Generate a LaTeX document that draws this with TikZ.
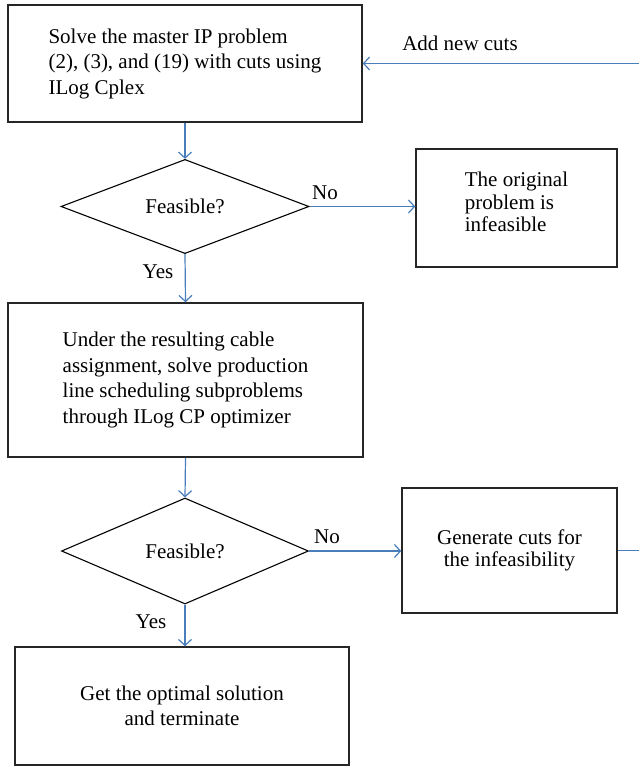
\documentclass[tikz,border=0pt]{standalone}
\usepackage{fontspec}
\setmainfont{Liberation Serif}
\usetikzlibrary{shapes.geometric,arrows.meta,calc}
\definecolor{arrowblue}{HTML}{4A7EBB}
\definecolor{boxline}{HTML}{262626}
\begin{document}
\begin{tikzpicture}[x=1pt,y=-1pt,
  procbox/.style={draw=boxline,line width=1.5pt,rectangle,inner sep=0pt,font=\fontsize{21}{25.5}\selectfont},
  smallbox/.style={procbox,font=\fontsize{21}{22.5}\selectfont},
  decide/.style={draw=black,line width=1.1pt,diamond,inner sep=0pt,font=\fontsize{21}{24}\selectfont},
  flow/.style={draw=arrowblue,line width=1.2pt,-{Straight Barb[length=6pt,width=13pt]}},
  flowline/.style={draw=arrowblue,line width=1.2pt},
  lbl/.style={font=\fontsize{21}{24}\selectfont,inner sep=0pt}
]
\useasboundingbox (0,0) rectangle (638,767);

\node[procbox,minimum width=354pt,minimum height=117pt,align=left] (b1) at (185,63.5)
  {Solve the master IP problem\\(2), (3), and (19) with cuts using\\ILog Cplex};
\node[decide,minimum width=248pt,minimum height=85pt] (d1) at (185,206.5) {Feasible?};
\node[smallbox,minimum width=201pt,minimum height=118pt,align=left] (b2) at (516.5,208)
  {The original\\problem is\\infeasible\rule[-12pt]{0pt}{0pt}};
\node[procbox,minimum width=355pt,minimum height=154pt,align=left] (b3) at (185.5,380)
  {Under the resulting cable\\assignment, solve production\\line scheduling subproblems\\through ILog CP optimizer};
\node[decide,minimum width=247pt,minimum height=106pt] (d2) at (185,551) {Feasible?};
\node[smallbox,minimum width=215pt,minimum height=125pt,align=center] (b4) at (509.5,550.5)
  {Generate cuts for\\the infeasibility};
\node[procbox,minimum width=334pt,minimum height=118pt,align=center] (b5) at (182,706)
  {Get the optimal solution\\and terminate};

\node[lbl] (addcuts) at (460,43) {Add new cuts};
\node[lbl] (no1) at (325,193) {No};
\node[lbl] (yes1) at (158,272) {Yes};
\node[lbl] (no2) at (327,537) {No};
\node[lbl] (yes2) at (151,622) {Yes};

\coordinate (c1) at (639.5,550.5);
\coordinate (c2) at (639.5,63.5);

\draw[flow] (b1.south) -- (d1.north);
\draw[flow] (d1.east) -- (d1.east -| b2.west);
\draw[flow] (d1.south) -- (b3.north);
\draw[flow] (b3.south) -- (d2.north);
\draw[flow] (d2.east) -- (d2.east -| b4.west);
\draw[flow] (d2.south) -- (d2.south |- b5.north);
\draw[flowline] (b4.east) -- (c1) -- (c2);
\draw[flow] (c2) -- (b1.east);
\end{tikzpicture}
\end{document}
